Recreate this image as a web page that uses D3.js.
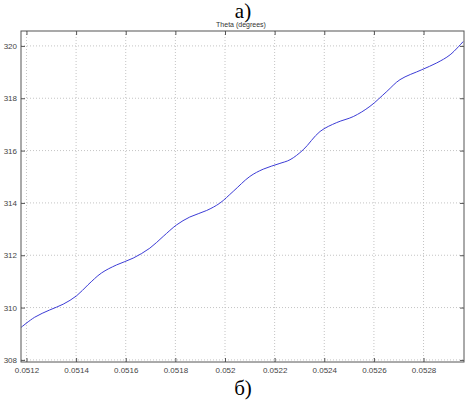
<!DOCTYPE html>
<html lang="ru">
<head>
  <meta charset="UTF-8">
  <title>Theta (degrees)</title>
  <style>
    body { margin: 0; padding: 0; background: #fff; }
    .tick text { font-family: Arial, "Liberation Sans", sans-serif; font-size: 8px; fill: #444; }
    .grid line { stroke: #c4c4c4; stroke-dasharray: 1,2; }
    .caption { font-family: "Liberation Serif", "DejaVu Serif", serif; font-size: 21px; fill: #000; }
  </style>
</head>
<body>
  <svg id="chart" width="476" height="404"></svg>

  <script src="https://d3js.org/d3.v7.min.js"></script>
  <script>
    // time (s) and theta (degrees)
    const timeValues = [0.051178, 0.051233, 0.051294, 0.051348, 0.051402, 0.051448, 0.051502, 0.051563,
      0.051630, 0.051697, 0.051751, 0.051805, 0.051858, 0.051926, 0.051979, 0.052033, 0.052100,
      0.052154, 0.052218, 0.052262, 0.052315, 0.052383, 0.052450, 0.052517, 0.052584, 0.052652,
      0.052705, 0.052793, 0.052853, 0.052907, 0.052960];
    const thetaValues = [309.24, 309.63, 309.91, 310.13, 310.45, 310.87, 311.32, 311.63,
      311.89, 312.27, 312.72, 313.16, 313.46, 313.71, 313.99, 314.44, 315.01,
      315.29, 315.50, 315.65, 316.03, 316.73, 317.07, 317.30, 317.69, 318.26,
      318.71, 319.09, 319.35, 319.66, 320.17];
    const xTicks = [0.0512, 0.0514, 0.0516, 0.0518, 0.052, 0.0522, 0.0524, 0.0526, 0.0528];
    const yTicks = [308, 310, 312, 314, 316, 318, 320];

    const svg = d3.select('#chart');
    const plotLeft = 21, plotRight = 464, plotTop = 31, plotBottom = 362;

    const x = d3.scaleLinear().domain([0.051178, 0.052963]).range([plotLeft, plotRight]);
    const y = d3.scaleLinear().domain([307.92, 320.57]).range([plotBottom, plotTop]);

    // grid
    const grid = svg.append('g').attr('class', 'grid');
    grid.selectAll('.gx').data(xTicks).enter().append('line')
      .attr('x1', d => x(d)).attr('x2', d => x(d))
      .attr('y1', plotTop).attr('y2', plotBottom);
    grid.selectAll('.gy').data(yTicks).enter().append('line')
      .attr('x1', plotLeft).attr('x2', plotRight)
      .attr('y1', d => y(d)).attr('y2', d => y(d));

    // line
    const line = d3.line()
      .x((d, i) => x(timeValues[i]))
      .y(d => y(d))
      .curve(d3.curveCatmullRom);
    svg.append('path')
      .datum(thetaValues)
      .attr('d', line)
      .attr('fill', 'none')
      .attr('stroke', '#3c3cd6')
      .attr('stroke-width', 1);

    // axes with inward ticks, matlab style
    const fmtX = d => String(+d.toFixed(4));
    svg.append('g').attr('transform', `translate(0,${plotBottom})`)
      .call(d3.axisBottom(x).tickValues(xTicks).tickFormat(fmtX).tickSizeInner(-4).tickSizeOuter(0).tickPadding(5))
      .call(g => g.select('.domain').remove())
      .call(g => g.selectAll('line').attr('stroke', '#555'));
    svg.append('g').attr('transform', `translate(0,${plotTop})`)
      .call(d3.axisTop(x).tickValues(xTicks).tickFormat('').tickSizeInner(-4).tickSizeOuter(0))
      .call(g => g.select('.domain').remove())
      .call(g => g.selectAll('line').attr('stroke', '#555'));
    svg.append('g').attr('transform', `translate(${plotLeft},0)`)
      .call(d3.axisLeft(y).tickValues(yTicks).tickFormat(d3.format('d')).tickSizeInner(-4).tickSizeOuter(0).tickPadding(4))
      .call(g => g.select('.domain').remove())
      .call(g => g.selectAll('line').attr('stroke', '#555'));
    svg.append('g').attr('transform', `translate(${plotRight},0)`)
      .call(d3.axisRight(y).tickValues(yTicks).tickFormat('').tickSizeInner(-4).tickSizeOuter(0))
      .call(g => g.select('.domain').remove())
      .call(g => g.selectAll('line').attr('stroke', '#555'));

    svg.append('rect')
      .attr('x', plotLeft).attr('y', plotTop)
      .attr('width', plotRight - plotLeft).attr('height', plotBottom - plotTop)
      .attr('fill', 'none').attr('stroke', '#555').attr('stroke-width', 1);

    // title and captions
    svg.append('text')
      .attr('x', 241).attr('y', 27)
      .attr('text-anchor', 'middle')
      .style('font-family', 'Arial, sans-serif').style('font-size', '7px').style('fill', '#333')
      .text('Theta (degrees)');
    svg.append('text').attr('class', 'caption')
      .attr('x', 243).attr('y', 18).attr('text-anchor', 'middle')
      .text('а)');
    svg.append('text').attr('class', 'caption')
      .attr('x', 243).attr('y', 395).attr('text-anchor', 'middle')
      .text('б)');
  </script>
</body>
</html>
